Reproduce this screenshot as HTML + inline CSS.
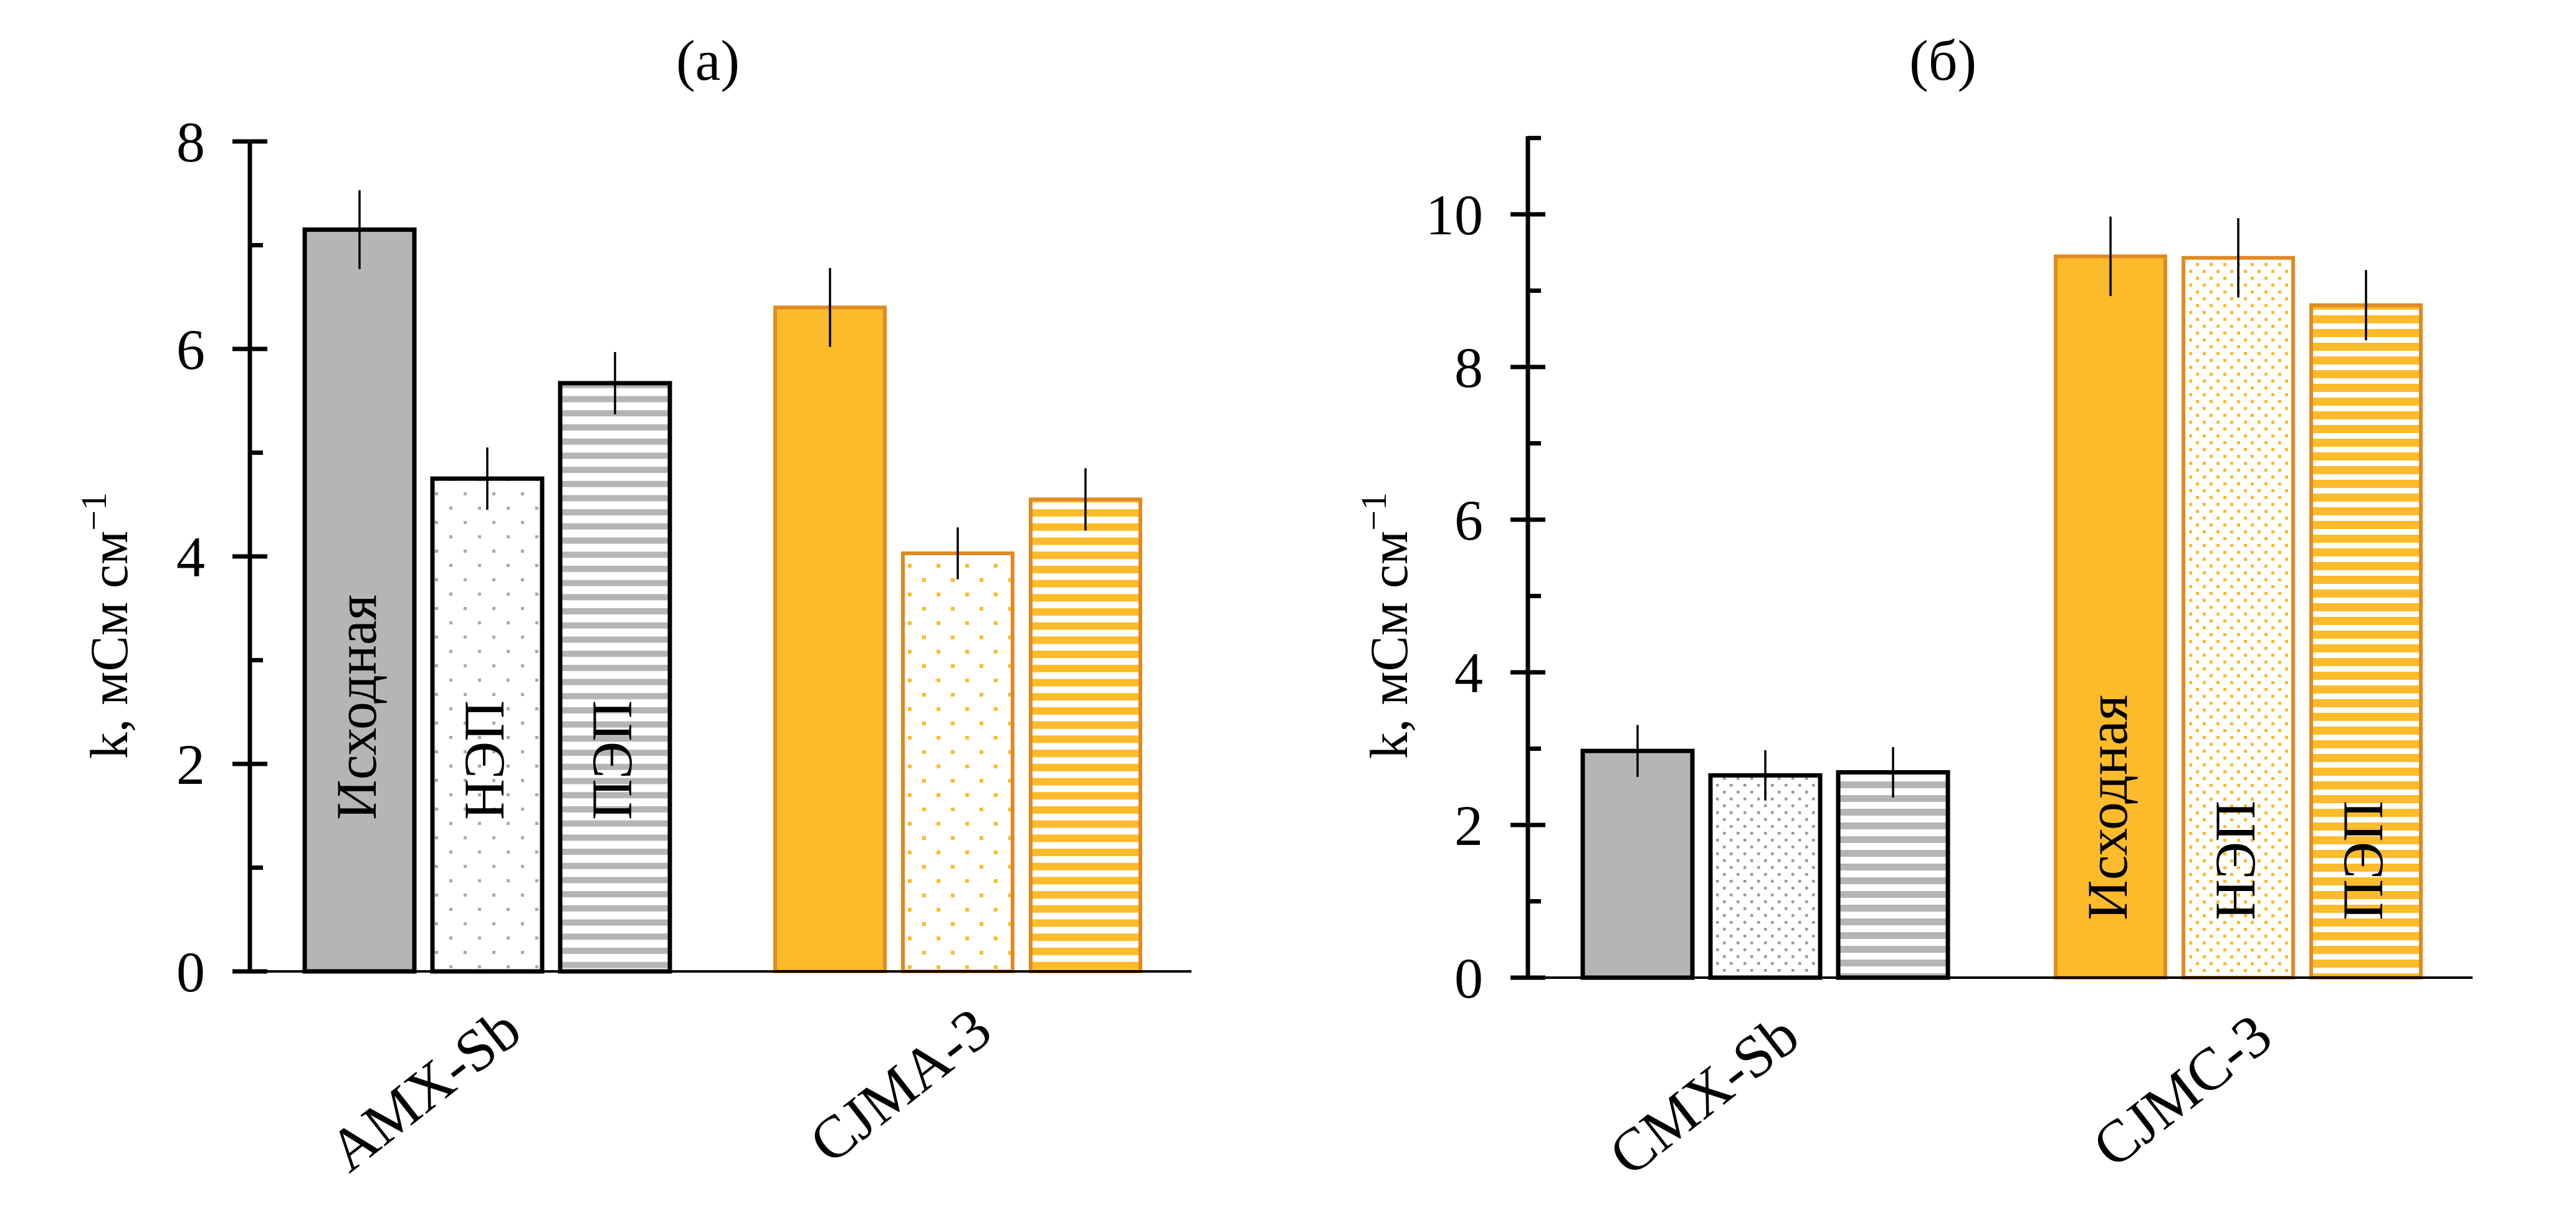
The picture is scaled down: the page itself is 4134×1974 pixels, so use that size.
<!DOCTYPE html>
<html><head><meta charset="utf-8">
<style>
html,body{margin:0;padding:0;background:#fff;}
svg{display:block;font-family:"Liberation Serif","Times New Roman","DejaVu Serif",serif;}
</style></head>
<body>
<svg id="chart" width="4134" height="1974" viewBox="0 0 4134 1974" xmlns="http://www.w3.org/2000/svg">
<defs>
<pattern id="grayStripesA" patternUnits="userSpaceOnUse" width="20" height="22.7"><rect width="20" height="22.7" fill="#fff"/><rect y="0" width="20" height="10" fill="#b3b5b6"/></pattern>
<pattern id="orangeStripesA" patternUnits="userSpaceOnUse" width="20" height="22.7"><rect width="20" height="22.7" fill="#fff"/><rect y="0" width="20" height="12" fill="#fbbb2a"/></pattern>
<pattern id="grayStripesB" patternUnits="userSpaceOnUse" width="20" height="22"><rect width="20" height="22" fill="#fff"/><rect y="0" width="20" height="11" fill="#b3b5b6"/></pattern>
<pattern id="orangeStripesB" patternUnits="userSpaceOnUse" width="20" height="22"><rect width="20" height="22" fill="#fff"/><rect y="0" width="20" height="13" fill="#fbbb2a"/></pattern>
<pattern id="grayDotsA" patternUnits="userSpaceOnUse" width="46" height="46"><rect width="46" height="46" fill="#fff"/><rect x="8" y="8" width="5" height="5" fill="#aaa"/><rect x="31" y="31" width="5" height="5" fill="#aaa"/></pattern>
<pattern id="orangeDotsA" patternUnits="userSpaceOnUse" width="46" height="46"><rect width="46" height="46" fill="#fff"/><rect x="8" y="8" width="6" height="6" fill="#fbbb2a"/><rect x="31" y="31" width="6" height="6" fill="#fbbb2a"/></pattern>
<pattern id="grayDotsB" patternUnits="userSpaceOnUse" width="22" height="22"><rect width="22" height="22" fill="#fff"/><rect x="4" y="4" width="4.5" height="4.5" fill="#999"/><rect x="15" y="15" width="4.5" height="4.5" fill="#999"/></pattern>
<pattern id="orangeDotsB" patternUnits="userSpaceOnUse" width="22" height="22"><rect width="22" height="22" fill="#fff"/><rect x="4" y="4" width="5" height="5" fill="#fbbb2a"/><rect x="15" y="15" width="5" height="5" fill="#fbbb2a"/></pattern>
</defs>
</svg>
<script>
// Panel (a)
const catsA = ["AMX-Sb", "CJMA-3"];
const valsA = [[7.15, 4.75, 5.67], [6.40, 4.03, 4.55]];
const errsA = [[0.38, 0.30, 0.30], [0.38, 0.25, 0.30]];
const ticksA = [0, 2, 4, 6, 8];
// Panel (b)
const catsB = ["CMX-Sb", "CJMC-3"];
const valsB = [[2.97, 2.65, 2.69], [9.45, 9.43, 8.81]];
const errsB = [[0.34, 0.33, 0.33], [0.52, 0.52, 0.46]];
const ticksB = [0, 2, 4, 6, 8, 10];
const barLabels = ["Исходная", "НЭП", "ПЭП"];
const labelLens = [362, 192, 192];

const NS = "http://www.w3.org/2000/svg";
const svg = document.getElementById("chart");
function mk(tag, attrs, parent) {
  const e = document.createElementNS(NS, tag);
  for (const k in attrs) e.setAttribute(k, attrs[k]);
  (parent || svg).appendChild(e);
  return e;
}

function panel(cfg) {
  const g = mk("g", {});
  
  
  const y = v => cfg.y0 - v * cfg.unit;
  const t = mk("text", {x: cfg.titleX, y: 128, "font-size": 92, "text-anchor": "middle", fill: "#000"}, g);
  t.textContent = cfg.title;
  
  
  for (let c = 0; c < cfg.vals.length; c++) {
    for (let s = 0; s < 3; s++) {
      const x = cfg.groupX[c] + s * cfg.step;
      const v = cfg.vals[c][s];
      const top = y(v);
      const col = cfg.colors[c];
      const r = mk("rect", {x: x, y: top, width: cfg.bw, height: cfg.y0 - top, fill: col.fills[s], stroke: col.stroke, "stroke-width": col.sw}, g);
      
      
      const e = cfg.errs[c][s];
      const cx = x + cfg.bw / 2;
      const el = mk("line", {x1: cx, x2: cx, y1: y(v + e), y2: y(v - e), stroke: "#000", "stroke-width": 3.5}, g);
      
      
      if (c === cfg.labelGroup) {
        const lx = cx + 26;
        const ly = cfg.labelBottom;
        const tx = mk("text", {x: lx, y: ly, "font-size": 92, textLength: labelLens[s], lengthAdjust: "spacingAndGlyphs", transform: `rotate(-90 ${lx} ${ly})`, fill: "#000"}, g);
        tx.textContent = barLabels[s];
        
        
      }
    }
    const gc = cfg.groupX[c] + cfg.step + cfg.bw / 2;
    const lx = gc + 60, ly = cfg.y0 + 105;
    const cl = mk("text", {x: lx, y: ly, "font-size": 96, "text-anchor": "end", transform: `rotate(-38 ${lx} ${ly})`, fill: "#000"}, g);
    cl.textContent = cfg.cats[c];
    
    
  }
  const ya = mk("line", {x1: cfg.ax, x2: cfg.ax, y1: y(cfg.topVal) - 3, y2: cfg.y0, stroke: "#000", "stroke-width": 7}, g);
  
  
  const xa = mk("line", {x1: cfg.ax - 28, x2: cfg.xEnd, y1: cfg.y0, y2: cfg.y0, stroke: "#000", "stroke-width": 4}, g);
  
  
  for (let v = 0; v <= cfg.topVal; v++) {
    const yy = y(v);
    const major = cfg.ticks.indexOf(v) >= 0;
    const tk = mk("line", {x1: major ? cfg.ax - 28 : cfg.ax, x2: major ? cfg.ax + 28 : cfg.ax + 21, y1: yy, y2: yy, stroke: "#000", "stroke-width": 7}, g);
    
    
  }
  for (const v of cfg.ticks) {
    const tl = mk("text", {x: cfg.ax - 72, y: y(v) + 32, "font-size": 92, "text-anchor": "end", fill: "#000"}, g);
    tl.textContent = v;
    
    
  }
  const yt = mk("text", {x: cfg.ytX, y: 1004, "font-size": 86, "text-anchor": "middle", transform: `rotate(-90 ${cfg.ytX} 1004)`, fill: "#000"}, g);
  yt.innerHTML = 'k, мСм см<tspan dy="-34" font-size="58">−1</tspan>';
  
  
}

const grayC = {fills: ["#b3b5b6", "url(#grayDotsA)", "url(#grayStripesA)"], stroke: "#000", sw: 7};
const orangeC = {fills: ["#fbbb2a", "url(#orangeDotsA)", "url(#orangeStripesA)"], stroke: "#e08a22", sw: 6};
panel({name: "panel-a", title: "(a)", titleX: 1136, cats: catsA, vals: valsA, errs: errsA, ticks: ticksA,
  y0: 1559, unit: 166.5, topVal: 8, ax: 401, xEnd: 1912, groupX: [489, 1244], step: 205, bw: 176,
  colors: [grayC, orangeC], labelGroup: 0, labelBottom: 1316, ytX: 204});

const grayB = {fills: ["#b3b5b6", "url(#grayDotsB)", "url(#grayStripesB)"], stroke: "#000", sw: 7};
const orangeB = {fills: ["#fbbb2a", "url(#orangeDotsB)", "url(#orangeStripesB)"], stroke: "#e08a22", sw: 6};
panel({name: "panel-b", title: "(б)", titleX: 3118, cats: catsB, vals: valsB, errs: errsB, ticks: ticksB,
  y0: 1569, unit: 122.5, topVal: 11, ax: 2452, xEnd: 3968, groupX: [2540, 3299], step: 205, bw: 176,
  colors: [grayB, orangeB], labelGroup: 1, labelBottom: 1477, ytX: 2258});
</script>
</body></html>
